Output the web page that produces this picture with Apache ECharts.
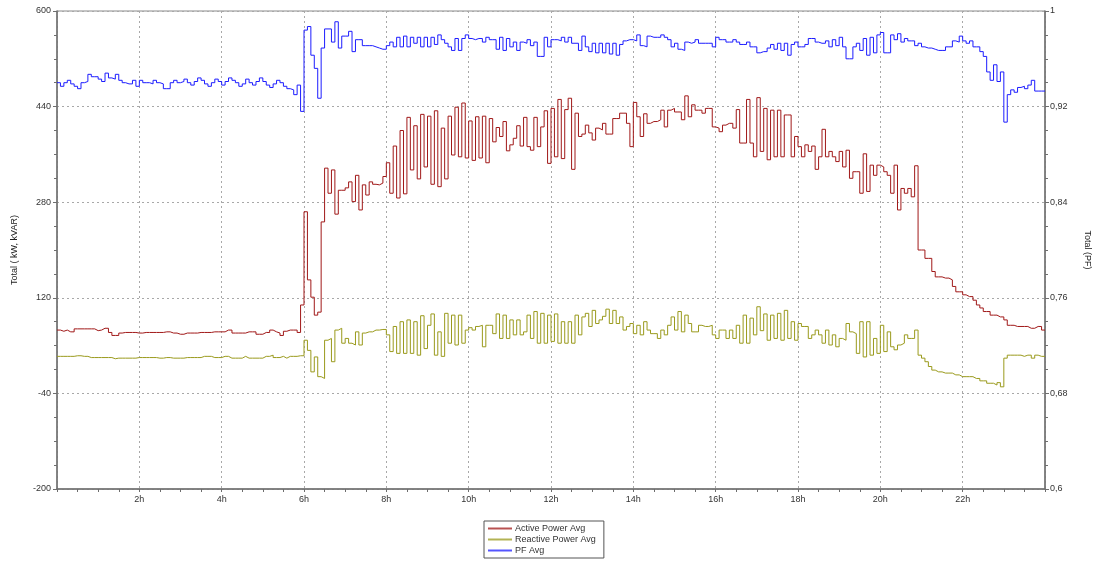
<!DOCTYPE html>
<html>
<head>
<meta charset="utf-8">
<script src="https://cdn.jsdelivr.net/npm/echarts@6/dist/echarts.min.js"></script>
<style>
  html, body { margin: 0; padding: 0; background: #fff; }
  #chart { width: 1094px; height: 563px; }
</style>
</head>
<body>
<div id="chart"></div>
<script>
// 5-minute averages over one day (288 samples, one row per hour)
const sampleHours = 5 / 60;

const activePower = [
  66, 64, 66, 63, 63, 68, 68, 68, 68, 68, 68, 65,
  66, 69, 69, 62, 57, 57, 61, 62, 62, 62, 62, 61,
  61, 62, 62, 62, 62, 62, 62, 63, 63, 61, 61, 59,
  59, 61, 61, 61, 61, 62, 62, 62, 62, 63, 63, 63,
  63, 66, 66, 61, 61, 61, 61, 63, 63, 63, 59, 59,
  62, 62, 66, 63, 61, 57, 64, 66, 66, 66, 62, 108,
  264, 150, 121, 91, 96, 247, 337, 295, 334, 260, 300, 300,
  304, 314, 281, 325, 267, 309, 292, 314, 310, 309, 312, 323,
  346, 295, 374, 287, 400, 294, 422, 334, 408, 319, 427, 339,
  424, 310, 433, 306, 404, 319, 424, 359, 439, 356, 446, 354,
  416, 350, 423, 354, 424, 346, 420, 381, 405, 390, 415, 366,
  376, 387, 408, 374, 422, 373, 367, 422, 373, 406, 433, 345,
  437, 356, 452, 353, 435, 454, 335, 429, 390, 394, 409, 396,
  384, 404, 401, 412, 394, 394, 420, 420, 429, 429, 412, 373,
  447, 423, 390, 428, 412, 415, 415, 418, 434, 406, 434, 437,
  431, 431, 418, 458, 423, 443, 434, 434, 429, 437, 437, 406,
  404, 398, 409, 412, 412, 404, 435, 379, 379, 452, 379, 356,
  455, 365, 437, 351, 434, 356, 434, 356, 426, 426, 356, 390,
  373, 356, 376, 365, 374, 335, 356, 402, 356, 365, 356, 348,
  365, 339, 367, 320, 331, 331, 295, 361, 298, 342, 325, 342,
  339, 331, 325, 295, 342, 267, 303, 295, 303, 289, 341, 200,
  200, 186, 186, 164, 155, 155, 153, 153, 150, 139, 130, 130,
  125, 122, 122, 116, 108, 103, 97, 97, 91, 91, 88, 88,
  83, 74, 74, 72, 72, 72, 72, 69, 69, 72, 72, 66
];

const reactivePower = [
  22, 22, 22, 22, 22, 23, 23, 22, 22, 20, 20, 20,
  20, 20, 20, 20, 18, 19, 19, 19, 19, 19, 19, 20,
  20, 20, 20, 20, 20, 19, 19, 20, 20, 19, 19, 19,
  19, 20, 20, 20, 20, 20, 22, 22, 22, 20, 20, 20,
  22, 22, 19, 19, 19, 19, 22, 19, 19, 19, 19, 19,
  22, 22, 24, 20, 20, 22, 19, 22, 22, 22, 23, 23,
  49, 32, -4, 21, -12, -15, 49, 52, 13, 66, 69, 44,
  52, 44, 41, 63, 41, 61, 63, 63, 66, 66, 67, 67,
  58, 30, 72, 27, 80, 27, 83, 27, 80, 24, 90, 35,
  74, 93, 24, 63, 22, 94, 44, 91, 41, 91, 44, 66,
  70, 66, 72, 74, 38, 74, 74, 60, 93, 52, 91, 52,
  83, 58, 83, 58, 63, 91, 52, 97, 44, 94, 44, 91,
  47, 93, 44, 80, 44, 80, 44, 91, 58, 88, 94, 72,
  99, 77, 83, 89, 101, 77, 99, 77, 88, 66, 72, 77,
  60, 74, 58, 80, 66, 60, 60, 52, 66, 58, 74, 88,
  66, 97, 63, 91, 77, 63, 63, 74, 72, 72, 74, 58,
  52, 66, 66, 52, 66, 52, 74, 44, 91, 44, 86, 58,
  105, 65, 93, 49, 91, 52, 94, 49, 99, 52, 80, 49,
  77, 72, 72, 52, 58, 66, 58, 44, 66, 41, 58, 38,
  52, 49, 77, 63, 60, 27, 80, 21, 80, 24, 52, 27,
  74, 30, 63, 38, 33, 41, 44, 58, 52, 52, 66, 24,
  19, 13, 5, -1, -4, -4, -6, -6, -6, -9, -9, -12,
  -12, -12, -12, -15, -15, -19, -19, -23, -23, -26, -22, -29,
  19, 24, 24, 24, 24, 22, 24, 24, 19, 24, 22, 22
];

const powerFactor = [
  0.940, 0.937, 0.940, 0.942, 0.939, 0.937, 0.935, 0.940, 0.941, 0.947, 0.945, 0.945,
  0.943, 0.941, 0.948, 0.944, 0.943, 0.947, 0.942, 0.940, 0.939, 0.939, 0.942, 0.937,
  0.942, 0.940, 0.940, 0.939, 0.942, 0.940, 0.939, 0.935, 0.935, 0.940, 0.942, 0.940,
  0.941, 0.943, 0.940, 0.938, 0.941, 0.944, 0.942, 0.939, 0.937, 0.940, 0.943, 0.941,
  0.938, 0.941, 0.944, 0.942, 0.940, 0.937, 0.939, 0.943, 0.940, 0.938, 0.941, 0.944,
  0.941, 0.938, 0.936, 0.939, 0.942, 0.940, 0.937, 0.935, 0.934, 0.930, 0.938, 0.916,
  0.984, 0.987, 0.963, 0.952, 0.927, 0.969, 0.985, 0.985, 0.974, 0.991, 0.969, 0.979,
  0.979, 0.983, 0.966, 0.976, 0.976, 0.971, 0.971, 0.971, 0.970, 0.969, 0.968, 0.968,
  0.971, 0.974, 0.970, 0.978, 0.970, 0.979, 0.970, 0.978, 0.973, 0.978, 0.970, 0.978,
  0.970, 0.978, 0.972, 0.980, 0.976, 0.973, 0.970, 0.967, 0.977, 0.967, 0.977, 0.980,
  0.977, 0.976, 0.977, 0.977, 0.974, 0.978, 0.976, 0.976, 0.968, 0.978, 0.967, 0.977,
  0.970, 0.974, 0.967, 0.974, 0.973, 0.976, 0.971, 0.974, 0.962, 0.962, 0.978, 0.970,
  0.976, 0.976, 0.975, 0.978, 0.974, 0.978, 0.973, 0.973, 0.967, 0.979, 0.970, 0.966,
  0.973, 0.965, 0.973, 0.965, 0.973, 0.964, 0.973, 0.963, 0.972, 0.975, 0.976, 0.976,
  0.975, 0.980, 0.971, 0.970, 0.979, 0.978, 0.978, 0.978, 0.980, 0.978, 0.976, 0.970,
  0.973, 0.968, 0.967, 0.974, 0.973, 0.974, 0.976, 0.973, 0.973, 0.973, 0.973, 0.970,
  0.978, 0.976, 0.976, 0.974, 0.974, 0.976, 0.974, 0.972, 0.972, 0.974, 0.970, 0.970,
  0.965, 0.966, 0.966, 0.969, 0.972, 0.968, 0.973, 0.967, 0.973, 0.963, 0.972, 0.974,
  0.970, 0.970, 0.972, 0.977, 0.977, 0.974, 0.973, 0.973, 0.975, 0.970, 0.976, 0.971,
  0.978, 0.970, 0.960, 0.960, 0.970, 0.973, 0.967, 0.977, 0.963, 0.978, 0.965, 0.980,
  0.982, 0.965, 0.965, 0.980, 0.976, 0.981, 0.974, 0.977, 0.975, 0.975, 0.971, 0.973,
  0.970, 0.969, 0.969, 0.968, 0.967, 0.967, 0.967, 0.970, 0.970, 0.975, 0.974, 0.979,
  0.975, 0.973, 0.975, 0.970, 0.970, 0.966, 0.962, 0.949, 0.942, 0.955, 0.941, 0.949,
  0.907, 0.930, 0.934, 0.932, 0.936, 0.937, 0.935, 0.938, 0.942, 0.933, 0.933, 0.933
];

const seriesNames = ['Active Power Avg', 'Reactive Power Avg', 'PF Avg'];
const seriesColors = ['#a01818', '#9a9a1c', '#1c1cff'];
const hourTicks = [2, 4, 6, 8, 10, 12, 14, 16, 18, 20, 22];
const leftAxisName = 'Total ( kW, kVAR)';
const rightAxisName = 'Total (PF)';

// Each average is held over its own 5-minute interval; the closing point
// at 24h carries the last interval to the right edge.
function toSteps(values) {
  const pts = values.map((v, i) => [i * sampleHours, v]);
  pts.push([values.length * sampleHours, values[values.length - 1]]);
  return pts;
}

const font = 'Liberation Sans, Arial, sans-serif';
const axisGrey = '#6e6e6e';
const gridDash = { color: '#a8a8a8', type: [2, 3], width: 1 };

const chart = echarts.init(document.getElementById('chart'), null, { renderer: 'canvas' });

chart.setOption({
  animation: false,
  backgroundColor: '#ffffff',
  textStyle: { fontFamily: font },
  grid: {
    left: 57, right: 49, top: 11, bottom: 74,
    outerBoundsMode: 'none',
    show: true, borderColor: '#8a8a8a', borderWidth: 1
  },
  legend: {
    orient: 'vertical',
    left: 484, top: 521,
    padding: [2, 8, 2, 4],
    itemGap: 0,
    itemWidth: 24, itemHeight: 2,
    borderColor: '#555', borderWidth: 1,
    textStyle: { fontSize: 9, color: '#333', fontFamily: font, padding: [0, 0, 0, -2], lineHeight: 11 },
    data: seriesNames.map((n, i) => ({
      name: n,
      icon: 'rect',
      itemStyle: { color: seriesColors[i], opacity: 0.75 }
    })),
    itemStyle: { borderWidth: 0 }
  },
  xAxis: {
    type: 'value',
    min: 0, max: 24, interval: 2,
    axisLine: { show: true, onZero: false, lineStyle: { color: axisGrey, width: 1.5 } },
    axisTick: { show: true, length: 3, lineStyle: { color: axisGrey } },
    minorTick: { show: true, splitNumber: 4, length: 3, lineStyle: { color: axisGrey } },
    axisLabel: {
      fontSize: 9, color: '#333', margin: 6,
      formatter: v => hourTicks.includes(Math.round(v)) ? Math.round(v) + 'h' : ''
    },
    splitLine: { show: true, lineStyle: gridDash }
  },
  yAxis: [
    {
      type: 'value',
      min: -200, max: 600, interval: 160,
      name: leftAxisName,
      nameLocation: 'middle', nameRotate: 90, nameGap: 38,
      nameTextStyle: { fontSize: 9, color: '#222' },
      axisLine: { show: true, onZero: false, lineStyle: { color: axisGrey, width: 1.5 } },
      axisTick: { show: true, length: 4, lineStyle: { color: axisGrey } },
      minorTick: { show: true, splitNumber: 4, length: 3, lineStyle: { color: axisGrey } },
      axisLabel: { fontSize: 9, color: '#333', margin: 6 },
      splitLine: { show: true, lineStyle: gridDash }
    },
    {
      type: 'value',
      min: 0.6, max: 1, interval: 0.08,
      position: 'right',
      name: rightAxisName,
      nameLocation: 'middle', nameRotate: -90, nameGap: 38,
      nameTextStyle: { fontSize: 9, color: '#222' },
      axisLine: { show: true, onZero: false, lineStyle: { color: axisGrey, width: 1.5 } },
      axisTick: { show: true, length: 4, lineStyle: { color: axisGrey } },
      minorTick: { show: true, splitNumber: 4, length: 3, lineStyle: { color: axisGrey } },
      axisLabel: {
        fontSize: 9, color: '#333', margin: 5,
        formatter: v => String(parseFloat(v.toFixed(2))).replace('.', ',')
      },
      splitLine: { show: false }
    }
  ],
  series: seriesNames.map((name, i) => ({
    name,
    type: 'line',
    step: 'end',
    yAxisIndex: i === 2 ? 1 : 0,
    symbol: 'none',
    data: toSteps([activePower, reactivePower, powerFactor][i]),
    lineStyle: { color: seriesColors[i], width: 1 },
    itemStyle: { color: seriesColors[i] }
  }))
});
</script>
</body>
</html>
